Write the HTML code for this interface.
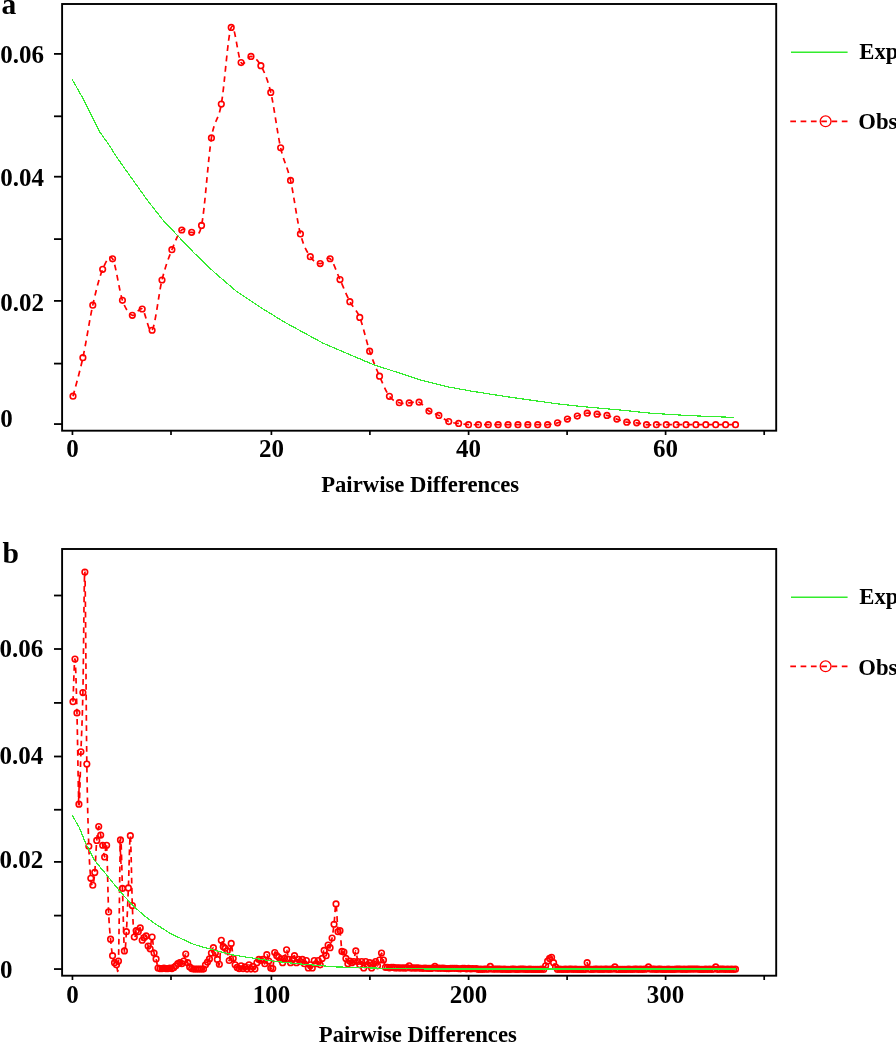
<!DOCTYPE html>
<html><head><meta charset="utf-8"><title>Mismatch distribution</title>
<style>html,body{margin:0;padding:0;background:#fff;overflow:hidden}svg{display:block;will-change:transform}</style></head>
<body><svg width="896" height="1042" viewBox="0 0 896 1042">
<rect width="896" height="1042" fill="#fff"/>
<rect x="62.1" y="4.0" width="714.10" height="426.70" fill="none" stroke="#000" stroke-width="1.9"/>
<line x1="54" y1="424.06" x2="62.1" y2="424.06" stroke="#000" stroke-width="1.8"/>
<line x1="54" y1="363.60" x2="62.1" y2="363.60" stroke="#000" stroke-width="1.8"/>
<line x1="54" y1="300.90" x2="62.1" y2="300.90" stroke="#000" stroke-width="1.8"/>
<line x1="54" y1="239.10" x2="62.1" y2="239.10" stroke="#000" stroke-width="1.8"/>
<line x1="54" y1="176.70" x2="62.1" y2="176.70" stroke="#000" stroke-width="1.8"/>
<line x1="54" y1="116.30" x2="62.1" y2="116.30" stroke="#000" stroke-width="1.8"/>
<line x1="54" y1="53.90" x2="62.1" y2="53.90" stroke="#000" stroke-width="1.8"/>
<text x="0.3" y="63.0" font-size="25" font-family="Liberation Serif" font-weight="bold">0.06</text>
<text x="0.3" y="185.7" font-size="25" font-family="Liberation Serif" font-weight="bold">0.04</text>
<text x="0.3" y="310.7" font-size="25" font-family="Liberation Serif" font-weight="bold">0.02</text>
<text x="0.3" y="426.6" font-size="25" font-family="Liberation Serif" font-weight="bold">0</text>
<line x1="72.45" y1="430.7" x2="72.45" y2="435.00" stroke="#000" stroke-width="1.7"/>
<line x1="171.00" y1="430.7" x2="171.00" y2="435.00" stroke="#000" stroke-width="1.7"/>
<line x1="271.40" y1="430.7" x2="271.40" y2="435.00" stroke="#000" stroke-width="1.7"/>
<line x1="369.90" y1="430.7" x2="369.90" y2="435.00" stroke="#000" stroke-width="1.7"/>
<line x1="468.60" y1="430.7" x2="468.60" y2="435.00" stroke="#000" stroke-width="1.7"/>
<line x1="567.10" y1="430.7" x2="567.10" y2="435.00" stroke="#000" stroke-width="1.7"/>
<line x1="665.60" y1="430.7" x2="665.60" y2="435.00" stroke="#000" stroke-width="1.7"/>
<line x1="764.20" y1="430.7" x2="764.20" y2="435.00" stroke="#000" stroke-width="1.7"/>
<text x="72.45" y="457.30" font-size="25" text-anchor="middle" font-family="Liberation Serif" font-weight="bold">0</text>
<text x="271.40" y="457.30" font-size="25" text-anchor="middle" font-family="Liberation Serif" font-weight="bold">20</text>
<text x="468.60" y="457.30" font-size="25" text-anchor="middle" font-family="Liberation Serif" font-weight="bold">40</text>
<text x="665.60" y="457.30" font-size="25" text-anchor="middle" font-family="Liberation Serif" font-weight="bold">60</text>
<text x="420.2" y="492.0" font-size="22.7" text-anchor="middle" font-family="Liberation Serif" font-weight="bold">Pairwise Differences</text>
<path d="M73.00,396.18 C74.65,389.76 79.59,372.85 82.89,357.68 C86.18,342.52 89.48,319.92 92.78,305.18 C96.07,290.45 99.37,277.01 102.66,269.28 C105.96,261.55 109.26,253.62 112.55,258.79 C115.85,263.96 119.14,290.89 122.44,300.31 C125.74,309.73 129.03,313.85 132.33,315.30 C135.62,316.75 138.92,306.52 142.22,309.01 C145.51,311.50 148.81,335.06 152.10,330.23 C155.40,325.40 158.70,293.43 161.99,280.01 C165.29,266.60 168.58,258.06 171.88,249.72 C175.18,241.39 178.47,232.88 181.77,229.98 C185.06,227.08 188.36,233.09 191.66,232.33 C194.95,231.57 198.25,241.16 201.54,225.42 C204.84,209.68 208.14,158.10 211.43,137.88 C214.73,117.66 218.02,122.49 221.32,104.07 C224.62,85.66 227.91,34.31 231.21,27.39 C234.50,20.47 237.80,57.72 241.10,62.56 C244.39,67.39 247.69,55.87 250.98,56.39 C254.28,56.90 257.58,59.64 260.87,65.64 C264.17,71.65 267.46,78.72 270.76,92.41 C274.06,106.11 277.35,133.15 280.65,147.81 C283.94,162.47 287.24,166.03 290.54,180.38 C293.83,194.74 297.13,221.21 300.42,233.93 C303.72,246.65 307.02,251.75 310.31,256.70 C313.61,261.64 316.90,263.27 320.20,263.60 C323.50,263.94 326.79,256.07 330.09,258.73 C333.38,261.39 336.68,272.43 339.98,279.58 C343.27,286.74 346.57,295.36 349.86,301.67 C353.16,307.97 356.46,309.15 359.75,317.40 C363.05,325.64 366.34,341.34 369.64,351.14 C372.94,360.94 376.23,368.66 379.53,376.19 C382.82,383.71 386.12,391.88 389.42,396.30 C392.71,400.72 396.01,401.62 399.30,402.72 C402.60,403.82 405.90,402.98 409.19,402.90 C412.49,402.82 415.78,400.86 419.08,402.22 C422.38,403.58 425.67,408.84 428.97,411.04 C432.26,413.24 435.56,413.67 438.86,415.42 C442.15,417.18 445.45,420.26 448.74,421.59 C452.04,422.93 455.34,422.93 458.63,423.44 C461.93,423.96 465.22,424.47 468.52,424.68 C471.82,424.88 475.11,424.68 478.41,424.68 C481.70,424.68 485.00,424.68 488.30,424.68 C491.59,424.68 494.89,424.68 498.18,424.68 C501.48,424.68 504.78,424.68 508.07,424.68 C511.37,424.68 514.66,424.68 517.96,424.68 C521.26,424.68 524.55,424.68 527.85,424.68 C531.14,424.68 534.44,424.68 537.74,424.68 C541.03,424.68 544.33,424.99 547.62,424.68 C550.92,424.37 554.22,423.75 557.51,422.83 C560.81,421.90 564.10,420.26 567.40,419.12 C570.70,417.99 573.99,417.03 577.29,416.04 C580.58,415.05 583.88,413.51 587.18,413.20 C590.47,412.89 593.77,413.82 597.06,414.19 C600.36,414.56 603.66,414.60 606.95,415.42 C610.25,416.25 613.54,417.99 616.84,419.12 C620.14,420.26 623.43,421.59 626.73,422.21 C630.02,422.83 633.32,422.41 636.62,422.83 C639.91,423.24 643.21,424.37 646.50,424.68 C649.80,424.99 653.10,424.68 656.39,424.68 C659.69,424.68 662.98,424.68 666.28,424.68 C669.58,424.68 672.87,424.68 676.17,424.68 C679.46,424.68 682.76,424.68 686.06,424.68 C689.35,424.68 692.65,424.68 695.94,424.68 C699.24,424.68 702.54,424.68 705.83,424.68 C709.13,424.68 712.42,424.68 715.72,424.68 C719.02,424.68 722.31,424.68 725.61,424.68 C728.90,424.68 733.85,424.68 735.50,424.68" fill="none" stroke="#ff0000" stroke-width="1.7" stroke-dasharray="5.7 4.6"/>
<circle cx="73.00" cy="396.18" r="2.8" fill="none" stroke="#ff0000" stroke-width="1.6"/>
<circle cx="82.89" cy="357.68" r="2.8" fill="none" stroke="#ff0000" stroke-width="1.6"/>
<circle cx="92.78" cy="305.18" r="2.8" fill="none" stroke="#ff0000" stroke-width="1.6"/>
<circle cx="102.66" cy="269.28" r="2.8" fill="none" stroke="#ff0000" stroke-width="1.6"/>
<circle cx="112.55" cy="258.79" r="2.8" fill="none" stroke="#ff0000" stroke-width="1.6"/>
<circle cx="122.44" cy="300.31" r="2.8" fill="none" stroke="#ff0000" stroke-width="1.6"/>
<circle cx="132.33" cy="315.30" r="2.8" fill="none" stroke="#ff0000" stroke-width="1.6"/>
<circle cx="142.22" cy="309.01" r="2.8" fill="none" stroke="#ff0000" stroke-width="1.6"/>
<circle cx="152.10" cy="330.23" r="2.8" fill="none" stroke="#ff0000" stroke-width="1.6"/>
<circle cx="161.99" cy="280.01" r="2.8" fill="none" stroke="#ff0000" stroke-width="1.6"/>
<circle cx="171.88" cy="249.72" r="2.8" fill="none" stroke="#ff0000" stroke-width="1.6"/>
<circle cx="181.77" cy="229.98" r="2.8" fill="none" stroke="#ff0000" stroke-width="1.6"/>
<circle cx="191.66" cy="232.33" r="2.8" fill="none" stroke="#ff0000" stroke-width="1.6"/>
<circle cx="201.54" cy="225.42" r="2.8" fill="none" stroke="#ff0000" stroke-width="1.6"/>
<circle cx="211.43" cy="137.88" r="2.8" fill="none" stroke="#ff0000" stroke-width="1.6"/>
<circle cx="221.32" cy="104.07" r="2.8" fill="none" stroke="#ff0000" stroke-width="1.6"/>
<circle cx="231.21" cy="27.39" r="2.8" fill="none" stroke="#ff0000" stroke-width="1.6"/>
<circle cx="241.10" cy="62.56" r="2.8" fill="none" stroke="#ff0000" stroke-width="1.6"/>
<circle cx="250.98" cy="56.39" r="2.8" fill="none" stroke="#ff0000" stroke-width="1.6"/>
<circle cx="260.87" cy="65.64" r="2.8" fill="none" stroke="#ff0000" stroke-width="1.6"/>
<circle cx="270.76" cy="92.41" r="2.8" fill="none" stroke="#ff0000" stroke-width="1.6"/>
<circle cx="280.65" cy="147.81" r="2.8" fill="none" stroke="#ff0000" stroke-width="1.6"/>
<circle cx="290.54" cy="180.38" r="2.8" fill="none" stroke="#ff0000" stroke-width="1.6"/>
<circle cx="300.42" cy="233.93" r="2.8" fill="none" stroke="#ff0000" stroke-width="1.6"/>
<circle cx="310.31" cy="256.70" r="2.8" fill="none" stroke="#ff0000" stroke-width="1.6"/>
<circle cx="320.20" cy="263.60" r="2.8" fill="none" stroke="#ff0000" stroke-width="1.6"/>
<circle cx="330.09" cy="258.73" r="2.8" fill="none" stroke="#ff0000" stroke-width="1.6"/>
<circle cx="339.98" cy="279.58" r="2.8" fill="none" stroke="#ff0000" stroke-width="1.6"/>
<circle cx="349.86" cy="301.67" r="2.8" fill="none" stroke="#ff0000" stroke-width="1.6"/>
<circle cx="359.75" cy="317.40" r="2.8" fill="none" stroke="#ff0000" stroke-width="1.6"/>
<circle cx="369.64" cy="351.14" r="2.8" fill="none" stroke="#ff0000" stroke-width="1.6"/>
<circle cx="379.53" cy="376.19" r="2.8" fill="none" stroke="#ff0000" stroke-width="1.6"/>
<circle cx="389.42" cy="396.30" r="2.8" fill="none" stroke="#ff0000" stroke-width="1.6"/>
<circle cx="399.30" cy="402.72" r="2.8" fill="none" stroke="#ff0000" stroke-width="1.6"/>
<circle cx="409.19" cy="402.90" r="2.8" fill="none" stroke="#ff0000" stroke-width="1.6"/>
<circle cx="419.08" cy="402.22" r="2.8" fill="none" stroke="#ff0000" stroke-width="1.6"/>
<circle cx="428.97" cy="411.04" r="2.8" fill="none" stroke="#ff0000" stroke-width="1.6"/>
<circle cx="438.86" cy="415.42" r="2.8" fill="none" stroke="#ff0000" stroke-width="1.6"/>
<circle cx="448.74" cy="421.59" r="2.8" fill="none" stroke="#ff0000" stroke-width="1.6"/>
<circle cx="458.63" cy="423.44" r="2.8" fill="none" stroke="#ff0000" stroke-width="1.6"/>
<circle cx="468.52" cy="424.68" r="2.8" fill="none" stroke="#ff0000" stroke-width="1.6"/>
<circle cx="478.41" cy="424.68" r="2.8" fill="none" stroke="#ff0000" stroke-width="1.6"/>
<circle cx="488.30" cy="424.68" r="2.8" fill="none" stroke="#ff0000" stroke-width="1.6"/>
<circle cx="498.18" cy="424.68" r="2.8" fill="none" stroke="#ff0000" stroke-width="1.6"/>
<circle cx="508.07" cy="424.68" r="2.8" fill="none" stroke="#ff0000" stroke-width="1.6"/>
<circle cx="517.96" cy="424.68" r="2.8" fill="none" stroke="#ff0000" stroke-width="1.6"/>
<circle cx="527.85" cy="424.68" r="2.8" fill="none" stroke="#ff0000" stroke-width="1.6"/>
<circle cx="537.74" cy="424.68" r="2.8" fill="none" stroke="#ff0000" stroke-width="1.6"/>
<circle cx="547.62" cy="424.68" r="2.8" fill="none" stroke="#ff0000" stroke-width="1.6"/>
<circle cx="557.51" cy="422.83" r="2.8" fill="none" stroke="#ff0000" stroke-width="1.6"/>
<circle cx="567.40" cy="419.12" r="2.8" fill="none" stroke="#ff0000" stroke-width="1.6"/>
<circle cx="577.29" cy="416.04" r="2.8" fill="none" stroke="#ff0000" stroke-width="1.6"/>
<circle cx="587.18" cy="413.20" r="2.8" fill="none" stroke="#ff0000" stroke-width="1.6"/>
<circle cx="597.06" cy="414.19" r="2.8" fill="none" stroke="#ff0000" stroke-width="1.6"/>
<circle cx="606.95" cy="415.42" r="2.8" fill="none" stroke="#ff0000" stroke-width="1.6"/>
<circle cx="616.84" cy="419.12" r="2.8" fill="none" stroke="#ff0000" stroke-width="1.6"/>
<circle cx="626.73" cy="422.21" r="2.8" fill="none" stroke="#ff0000" stroke-width="1.6"/>
<circle cx="636.62" cy="422.83" r="2.8" fill="none" stroke="#ff0000" stroke-width="1.6"/>
<circle cx="646.50" cy="424.68" r="2.8" fill="none" stroke="#ff0000" stroke-width="1.6"/>
<circle cx="656.39" cy="424.68" r="2.8" fill="none" stroke="#ff0000" stroke-width="1.6"/>
<circle cx="666.28" cy="424.68" r="2.8" fill="none" stroke="#ff0000" stroke-width="1.6"/>
<circle cx="676.17" cy="424.68" r="2.8" fill="none" stroke="#ff0000" stroke-width="1.6"/>
<circle cx="686.06" cy="424.68" r="2.8" fill="none" stroke="#ff0000" stroke-width="1.6"/>
<circle cx="695.94" cy="424.68" r="2.8" fill="none" stroke="#ff0000" stroke-width="1.6"/>
<circle cx="705.83" cy="424.68" r="2.8" fill="none" stroke="#ff0000" stroke-width="1.6"/>
<circle cx="715.72" cy="424.68" r="2.8" fill="none" stroke="#ff0000" stroke-width="1.6"/>
<circle cx="725.61" cy="424.68" r="2.8" fill="none" stroke="#ff0000" stroke-width="1.6"/>
<circle cx="735.50" cy="424.68" r="2.8" fill="none" stroke="#ff0000" stroke-width="1.6"/>
<path d="M72.10,79.30 L84.40,100.90 L93.00,118.70 L99.80,132.00 L108.40,144.10 L117.00,157.50 L128.50,173.80 L146.60,199.20 L163.20,220.40 L193.60,252.50 L215.00,273.00 L236.40,291.20 L261.40,307.90 L282.90,321.25 L323.70,343.50 L372.60,364.30 L421.40,380.30 L446.00,386.50 L470.50,391.00 L507.30,396.80 L556.40,403.70 L582.70,406.60 L602.40,408.40 L622.50,410.20 L650.50,413.20 L682.40,415.20 L711.90,416.60 L734.00,417.40" fill="none" stroke="#33ec2d" stroke-width="1.2" shape-rendering="crispEdges"/>
<line x1="791" y1="52.3" x2="847.6" y2="52.3" stroke="#33ec2d" stroke-width="1.4"/>
<text x="859.3" y="59.10" font-size="22.7" font-family="Liberation Serif" font-weight="bold">Exp</text>
<line x1="790.3" y1="121.3" x2="847.8" y2="121.3" stroke="#ff0000" stroke-width="1.7" stroke-dasharray="5.7 4.6"/>
<circle cx="825.6" cy="121.3" r="5.4" fill="none" stroke="#ff0000" stroke-width="1.3"/>
<text x="858.3" y="129.00" font-size="22.7" font-family="Liberation Serif" font-weight="bold">Obs</text>
<text x="1.4" y="14.0" font-size="29.5" font-family="Liberation Serif" font-weight="bold">a</text>
<rect x="62.1" y="549.0" width="714.10" height="426.70" fill="none" stroke="#000" stroke-width="1.9"/>
<line x1="54" y1="969.06" x2="62.1" y2="969.06" stroke="#000" stroke-width="1.8"/>
<line x1="54" y1="915.60" x2="62.1" y2="915.60" stroke="#000" stroke-width="1.8"/>
<line x1="54" y1="861.90" x2="62.1" y2="861.90" stroke="#000" stroke-width="1.8"/>
<line x1="54" y1="809.75" x2="62.1" y2="809.75" stroke="#000" stroke-width="1.8"/>
<line x1="54" y1="756.50" x2="62.1" y2="756.50" stroke="#000" stroke-width="1.8"/>
<line x1="54" y1="702.90" x2="62.1" y2="702.90" stroke="#000" stroke-width="1.8"/>
<line x1="54" y1="649.00" x2="62.1" y2="649.00" stroke="#000" stroke-width="1.8"/>
<line x1="54" y1="595.50" x2="62.1" y2="595.50" stroke="#000" stroke-width="1.8"/>
<text x="-0.6" y="657.4" font-size="25" font-family="Liberation Serif" font-weight="bold">0.06</text>
<text x="-0.6" y="764.3" font-size="25" font-family="Liberation Serif" font-weight="bold">0.04</text>
<text x="-0.6" y="868.2" font-size="25" font-family="Liberation Serif" font-weight="bold">0.02</text>
<text x="0.0" y="978.3" font-size="25" font-family="Liberation Serif" font-weight="bold">0</text>
<line x1="72.45" y1="975.7" x2="72.45" y2="980.00" stroke="#000" stroke-width="1.7"/>
<line x1="171.00" y1="975.7" x2="171.00" y2="980.00" stroke="#000" stroke-width="1.7"/>
<line x1="271.40" y1="975.7" x2="271.40" y2="980.00" stroke="#000" stroke-width="1.7"/>
<line x1="369.90" y1="975.7" x2="369.90" y2="980.00" stroke="#000" stroke-width="1.7"/>
<line x1="468.60" y1="975.7" x2="468.60" y2="980.00" stroke="#000" stroke-width="1.7"/>
<line x1="567.10" y1="975.7" x2="567.10" y2="980.00" stroke="#000" stroke-width="1.7"/>
<line x1="665.60" y1="975.7" x2="665.60" y2="980.00" stroke="#000" stroke-width="1.7"/>
<line x1="764.20" y1="975.7" x2="764.20" y2="980.00" stroke="#000" stroke-width="1.7"/>
<text x="72.45" y="1003.00" font-size="25" text-anchor="middle" font-family="Liberation Serif" font-weight="bold">0</text>
<text x="271.40" y="1003.00" font-size="25" text-anchor="middle" font-family="Liberation Serif" font-weight="bold">100</text>
<text x="468.60" y="1003.00" font-size="25" text-anchor="middle" font-family="Liberation Serif" font-weight="bold">200</text>
<text x="665.60" y="1003.00" font-size="25" text-anchor="middle" font-family="Liberation Serif" font-weight="bold">300</text>
<text x="417.8" y="1042.0" font-size="22.7" text-anchor="middle" font-family="Liberation Serif" font-weight="bold">Pairwise Differences</text>
<path d="M73.00,701.68 C73.33,694.56 74.32,657.11 74.98,658.98 C75.64,660.85 76.30,688.69 76.96,712.88 C77.61,737.08 78.27,797.65 78.93,804.15 C79.59,810.64 80.25,770.43 80.91,751.84 C81.57,733.25 82.23,722.58 82.89,692.60 C83.55,662.63 84.21,560.07 84.87,571.99 C85.52,583.91 86.18,718.40 86.84,764.12 C87.50,809.84 88.16,827.27 88.82,846.31 C89.48,865.34 90.14,871.84 90.80,878.33 C91.46,884.82 92.12,886.25 92.78,885.27 C93.44,884.29 94.09,879.93 94.75,872.46 C95.41,864.99 96.07,848.09 96.73,840.44 C97.39,832.79 98.05,827.45 98.71,826.56 C99.37,825.67 100.03,831.99 100.69,835.10 C101.35,838.21 102.00,841.59 102.66,845.24 C103.32,848.89 103.98,856.98 104.64,856.98 C105.30,856.98 105.96,836.08 106.62,845.24 C107.28,854.40 107.94,896.30 108.60,911.95 C109.26,927.61 109.92,931.88 110.57,939.17 C111.23,946.47 111.89,951.80 112.55,955.72 C113.21,959.63 113.87,961.14 114.53,962.66 C115.19,964.17 115.85,965.06 116.51,964.79 C117.17,964.52 117.83,981.87 118.48,961.05 C119.14,940.24 119.80,852.00 120.46,839.90 C121.12,827.81 121.78,869.97 122.44,888.47 C123.10,906.97 123.76,943.71 124.42,950.91 C125.08,958.12 125.74,942.20 126.40,931.70 C127.05,921.20 127.71,903.95 128.37,887.94 C129.03,871.93 129.69,832.70 130.35,835.63 C131.01,838.57 131.67,888.65 132.33,905.55 C132.99,922.45 133.65,932.86 134.31,937.04 C134.96,941.22 135.62,931.52 136.28,930.63 C136.94,929.74 137.60,932.15 138.26,931.70 C138.92,931.26 139.58,926.54 140.24,927.97 C140.90,929.39 141.56,938.64 142.22,940.24 C142.88,941.84 143.53,938.28 144.19,937.57 C144.85,936.86 145.51,934.55 146.17,935.97 C146.83,937.39 147.49,943.98 148.15,946.11 C148.81,948.25 149.47,950.29 150.13,948.78 C150.79,947.27 151.44,936.33 152.10,937.04 C152.76,937.75 153.42,949.40 154.08,953.05 C154.74,956.70 155.40,956.43 156.06,958.92 C156.72,961.41 157.38,966.39 158.04,967.99 C158.70,969.59 159.36,968.44 160.01,968.53 C160.67,968.62 161.33,968.62 161.99,968.53 C162.65,968.44 163.31,967.99 163.97,967.99 C164.63,967.99 165.29,968.44 165.95,968.53 C166.61,968.62 167.27,968.62 167.92,968.53 C168.58,968.44 169.24,967.99 169.90,967.99 C170.56,967.99 171.22,968.62 171.88,968.53 C172.54,968.44 173.20,967.90 173.86,967.46 C174.52,967.01 175.18,966.48 175.84,965.86 C176.49,965.24 177.15,964.26 177.81,963.72 C178.47,963.19 179.13,962.66 179.79,962.66 C180.45,962.66 181.11,963.99 181.77,963.72 C182.43,963.46 183.09,962.66 183.75,961.05 C184.40,959.45 185.06,953.85 185.72,954.12 C186.38,954.38 187.04,960.52 187.70,962.66 C188.36,964.79 189.02,965.95 189.68,966.93 C190.34,967.90 191.00,968.17 191.66,968.53 C192.32,968.88 192.97,968.97 193.63,969.06 C194.29,969.15 194.95,969.06 195.61,969.06 C196.27,969.06 196.93,969.06 197.59,969.06 C198.25,969.06 198.91,969.06 199.57,969.06 C200.23,969.06 200.88,969.06 201.54,969.06 C202.20,969.06 202.86,969.77 203.52,969.06 C204.18,968.35 204.84,965.95 205.50,964.79 C206.16,963.63 206.82,963.10 207.48,962.12 C208.14,961.14 208.80,960.43 209.45,958.92 C210.11,957.41 210.77,954.92 211.43,953.05 C212.09,951.18 212.75,947.71 213.41,947.71 C214.07,947.71 214.73,951.09 215.39,953.05 C216.05,955.01 216.71,957.59 217.36,959.45 C218.02,961.32 218.68,967.46 219.34,964.26 C220.00,961.05 220.66,943.18 221.32,940.24 C221.98,937.30 222.64,945.31 223.30,946.64 C223.96,947.98 224.62,947.53 225.28,948.25 C225.93,948.96 226.59,948.87 227.25,950.91 C227.91,952.96 228.57,961.77 229.23,960.52 C229.89,959.28 230.55,943.80 231.21,943.44 C231.87,943.09 232.53,954.83 233.19,958.39 C233.84,961.94 234.50,963.28 235.16,964.79 C235.82,966.30 236.48,966.84 237.14,967.46 C237.80,968.08 238.46,968.79 239.12,968.53 C239.78,968.26 240.44,965.86 241.10,965.86 C241.76,965.86 242.41,968.35 243.07,968.53 C243.73,968.70 244.39,966.84 245.05,966.93 C245.71,967.01 246.37,969.42 247.03,969.06 C247.69,968.70 248.35,964.79 249.01,964.79 C249.67,964.79 250.32,968.79 250.98,969.06 C251.64,969.33 252.30,966.39 252.96,966.39 C253.62,966.39 254.28,969.68 254.94,969.06 C255.60,968.44 256.26,964.26 256.92,962.66 C257.58,961.05 258.24,959.81 258.89,959.45 C259.55,959.10 260.21,960.52 260.87,960.52 C261.53,960.52 262.19,958.92 262.85,959.45 C263.51,959.99 264.17,964.52 264.83,963.72 C265.49,962.92 266.15,955.09 266.80,954.65 C267.46,954.21 268.12,958.83 268.78,961.05 C269.44,963.28 270.10,966.75 270.76,967.99 C271.42,969.24 272.08,971.11 272.74,968.53 C273.40,965.95 274.06,954.65 274.72,952.52 C275.37,950.38 276.03,954.92 276.69,955.72 C277.35,956.52 278.01,956.70 278.67,957.32 C279.33,957.94 279.99,958.56 280.65,959.45 C281.31,960.34 281.97,962.83 282.63,962.66 C283.28,962.48 283.94,960.52 284.60,958.39 C285.26,956.25 285.92,949.67 286.58,949.85 C287.24,950.02 287.90,957.32 288.56,959.45 C289.22,961.59 289.88,962.66 290.54,962.66 C291.20,962.66 291.85,960.61 292.51,959.45 C293.17,958.30 293.83,955.18 294.49,955.72 C295.15,956.25 295.81,962.03 296.47,962.66 C297.13,963.28 297.79,959.63 298.45,959.45 C299.11,959.28 299.76,961.59 300.42,961.59 C301.08,961.59 301.74,959.10 302.40,959.45 C303.06,959.81 303.72,963.55 304.38,963.72 C305.04,963.90 305.70,959.81 306.36,960.52 C307.02,961.23 307.68,967.28 308.33,967.99 C308.99,968.70 309.65,964.79 310.31,964.79 C310.97,964.79 311.63,968.70 312.29,967.99 C312.95,967.28 313.61,961.23 314.27,960.52 C314.93,959.81 315.59,963.72 316.24,963.72 C316.90,963.72 317.56,960.34 318.22,960.52 C318.88,960.70 319.54,965.15 320.20,964.79 C320.86,964.43 321.52,960.79 322.18,958.39 C322.84,955.98 323.50,950.83 324.16,950.38 C324.81,949.94 325.47,956.61 326.13,955.72 C326.79,954.83 327.45,946.38 328.11,945.04 C328.77,943.71 329.43,948.87 330.09,947.71 C330.75,946.56 331.41,942.02 332.07,938.11 C332.72,934.19 333.38,929.92 334.04,924.23 C334.70,918.54 335.36,902.70 336.02,903.95 C336.68,905.19 337.34,927.25 338.00,931.70 C338.66,936.15 339.32,927.34 339.98,930.63 C340.64,933.92 341.29,947.89 341.95,951.45 C342.61,955.01 343.27,950.83 343.93,951.98 C344.59,953.14 345.25,956.43 345.91,958.39 C346.57,960.34 347.23,963.28 347.89,963.72 C348.55,964.17 349.20,961.23 349.86,961.05 C350.52,960.88 351.18,962.57 351.84,962.66 C352.50,962.74 353.16,963.55 353.82,961.59 C354.48,959.63 355.14,950.91 355.80,950.91 C356.46,950.91 357.12,959.28 357.77,961.59 C358.43,963.90 359.09,964.79 359.75,964.79 C360.41,964.79 361.07,961.05 361.73,961.59 C362.39,962.12 363.05,967.99 363.71,967.99 C364.37,967.99 365.03,962.12 365.68,961.59 C366.34,961.05 367.00,964.61 367.66,964.79 C368.32,964.97 368.98,962.12 369.64,962.66 C370.30,963.19 370.96,967.81 371.62,967.99 C372.28,968.17 372.94,964.79 373.60,963.72 C374.25,962.66 374.91,961.23 375.57,961.59 C376.23,961.94 376.89,966.12 377.55,965.86 C378.21,965.59 378.87,962.12 379.53,959.99 C380.19,957.85 380.85,953.05 381.51,953.05 C382.16,953.05 382.82,957.60 383.48,959.99 C384.14,962.37 384.80,966.12 385.46,967.35 C386.12,968.58 386.78,967.30 387.44,967.38 C388.10,967.46 388.76,967.82 389.42,967.83 C390.08,967.84 390.73,967.49 391.39,967.43 C392.05,967.37 392.71,967.38 393.37,967.46 C394.03,967.54 394.69,967.87 395.35,967.91 C396.01,967.96 396.67,967.72 397.33,967.73 C397.99,967.73 398.64,967.92 399.30,967.97 C399.96,968.01 400.62,968.02 401.28,967.99 C401.94,967.97 402.60,967.80 403.26,967.81 C403.92,967.81 404.58,968.07 405.24,968.05 C405.90,968.02 406.56,968.01 407.21,967.65 C407.87,967.28 408.53,965.78 409.19,965.86 C409.85,965.94 410.51,967.81 411.17,968.13 C411.83,968.44 412.49,967.72 413.15,967.73 C413.81,967.73 414.47,968.17 415.12,968.18 C415.78,968.19 416.44,967.81 417.10,967.78 C417.76,967.75 418.42,967.94 419.08,968.02 C419.74,968.10 420.40,968.21 421.06,968.26 C421.72,968.30 422.38,968.31 423.04,968.29 C423.69,968.26 424.35,968.09 425.01,968.10 C425.67,968.11 426.33,968.30 426.99,968.34 C427.65,968.38 428.31,968.36 428.97,968.37 C429.63,968.38 430.29,968.46 430.95,968.39 C431.60,968.33 432.26,968.33 432.92,967.99 C433.58,967.66 434.24,966.35 434.90,966.39 C435.56,966.44 436.22,967.98 436.88,968.26 C437.54,968.54 438.20,968.06 438.86,968.07 C439.52,968.08 440.17,968.30 440.83,968.31 C441.49,968.32 442.15,968.12 442.81,968.13 C443.47,968.13 444.13,968.29 444.79,968.37 C445.45,968.45 446.11,968.56 446.77,968.61 C447.43,968.65 448.08,968.70 448.74,968.63 C449.40,968.57 450.06,968.30 450.72,968.23 C451.38,968.17 452.04,968.25 452.70,968.26 C453.36,968.27 454.02,968.28 454.68,968.29 C455.34,968.30 456.00,968.23 456.65,968.31 C457.31,968.39 457.97,968.69 458.63,968.77 C459.29,968.85 459.95,968.86 460.61,968.79 C461.27,968.73 461.93,968.46 462.59,968.39 C463.25,968.33 463.91,968.34 464.56,968.42 C465.22,968.50 465.88,968.86 466.54,968.87 C467.20,968.88 467.86,968.46 468.52,968.47 C469.18,968.48 469.84,968.92 470.50,968.93 C471.16,968.94 471.82,968.55 472.48,968.53 C473.13,968.50 473.79,968.76 474.45,968.77 C475.11,968.78 475.77,968.48 476.43,968.58 C477.09,968.68 477.75,969.27 478.41,969.38 C479.07,969.49 479.73,969.22 480.39,969.22 C481.04,969.22 481.70,969.41 482.36,969.38 C483.02,969.35 483.68,969.09 484.34,969.06 C485.00,969.03 485.66,969.19 486.32,969.22 C486.98,969.25 487.64,969.69 488.30,969.22 C488.96,968.75 489.61,966.39 490.27,966.39 C490.93,966.39 491.59,968.78 492.25,969.22 C492.91,969.66 493.57,969.06 494.23,969.06 C494.89,969.06 495.55,969.22 496.21,969.22 C496.87,969.22 497.52,969.09 498.18,969.06 C498.84,969.03 499.50,969.01 500.16,969.06 C500.82,969.11 501.48,969.38 502.14,969.38 C502.80,969.38 503.46,969.06 504.12,969.06 C504.78,969.06 505.44,969.33 506.09,969.38 C506.75,969.43 507.41,969.38 508.07,969.38 C508.73,969.38 509.39,969.43 510.05,969.38 C510.71,969.33 511.37,969.11 512.03,969.06 C512.69,969.01 513.35,969.01 514.00,969.06 C514.66,969.11 515.32,969.33 515.98,969.38 C516.64,969.43 517.30,969.43 517.96,969.38 C518.62,969.33 519.28,969.09 519.94,969.06 C520.60,969.03 521.26,969.19 521.92,969.22 C522.57,969.25 523.23,969.19 523.89,969.22 C524.55,969.25 525.21,969.35 525.87,969.38 C526.53,969.41 527.19,969.41 527.85,969.38 C528.51,969.35 529.17,969.22 529.83,969.22 C530.48,969.22 531.14,969.35 531.80,969.38 C532.46,969.41 533.12,969.38 533.78,969.38 C534.44,969.38 535.10,969.38 535.76,969.38 C536.42,969.38 537.08,969.38 537.74,969.38 C538.40,969.38 539.05,969.43 539.71,969.38 C540.37,969.33 541.03,969.06 541.69,969.06 C542.35,969.06 543.01,969.91 543.67,969.38 C544.33,968.85 544.99,967.25 545.65,965.86 C546.31,964.47 546.96,962.30 547.62,961.05 C548.28,959.81 548.94,959.01 549.60,958.39 C550.26,957.76 550.92,956.61 551.58,957.32 C552.24,958.03 552.90,961.05 553.56,962.66 C554.22,964.26 554.88,965.80 555.53,966.93 C556.19,968.05 556.85,969.02 557.51,969.38 C558.17,969.74 558.83,969.06 559.49,969.06 C560.15,969.06 560.81,969.33 561.47,969.38 C562.13,969.43 562.79,969.41 563.44,969.38 C564.10,969.35 564.76,969.22 565.42,969.22 C566.08,969.22 566.74,969.38 567.40,969.38 C568.06,969.38 568.72,969.27 569.38,969.22 C570.04,969.17 570.70,969.03 571.36,969.06 C572.01,969.09 572.67,969.35 573.33,969.38 C573.99,969.41 574.65,969.22 575.31,969.22 C575.97,969.22 576.63,969.35 577.29,969.38 C577.95,969.41 578.61,969.38 579.27,969.38 C579.92,969.38 580.58,969.38 581.24,969.38 C581.90,969.38 582.56,969.38 583.22,969.38 C583.88,969.38 584.54,970.50 585.20,969.38 C585.86,968.26 586.52,962.68 587.18,962.66 C587.84,962.63 588.49,968.10 589.15,969.22 C589.81,970.34 590.47,969.35 591.13,969.38 C591.79,969.41 592.45,969.43 593.11,969.38 C593.77,969.33 594.43,969.11 595.09,969.06 C595.75,969.01 596.40,969.01 597.06,969.06 C597.72,969.11 598.38,969.35 599.04,969.38 C599.70,969.41 600.36,969.22 601.02,969.22 C601.68,969.22 602.34,969.38 603.00,969.38 C603.66,969.38 604.32,969.27 604.97,969.22 C605.63,969.17 606.29,969.03 606.95,969.06 C607.61,969.09 608.27,969.38 608.93,969.38 C609.59,969.38 610.25,969.09 610.91,969.06 C611.57,969.03 612.23,969.58 612.88,969.22 C613.54,968.86 614.20,966.90 614.86,966.93 C615.52,966.95 616.18,968.97 616.84,969.38 C617.50,969.79 618.16,969.38 618.82,969.38 C619.48,969.38 620.14,969.38 620.80,969.38 C621.45,969.38 622.11,969.38 622.77,969.38 C623.43,969.38 624.09,969.38 624.75,969.38 C625.41,969.38 626.07,969.43 626.73,969.38 C627.39,969.33 628.05,969.06 628.71,969.06 C629.36,969.06 630.02,969.33 630.68,969.38 C631.34,969.43 632.00,969.43 632.66,969.38 C633.32,969.33 633.98,969.09 634.64,969.06 C635.30,969.03 635.96,969.17 636.62,969.22 C637.28,969.27 637.93,969.38 638.59,969.38 C639.25,969.38 639.91,969.22 640.57,969.22 C641.23,969.22 641.89,969.38 642.55,969.38 C643.21,969.38 643.87,969.27 644.53,969.22 C645.19,969.17 645.84,969.44 646.50,969.06 C647.16,968.68 647.82,966.90 648.48,966.93 C649.14,966.95 649.80,968.84 650.46,969.22 C651.12,969.60 651.78,969.22 652.44,969.22 C653.10,969.22 653.76,969.19 654.41,969.22 C655.07,969.25 655.73,969.38 656.39,969.38 C657.05,969.38 657.71,969.27 658.37,969.22 C659.03,969.17 659.69,969.03 660.35,969.06 C661.01,969.09 661.67,969.33 662.32,969.38 C662.98,969.43 663.64,969.38 664.30,969.38 C664.96,969.38 665.62,969.43 666.28,969.38 C666.94,969.33 667.60,969.06 668.26,969.06 C668.92,969.06 669.58,969.33 670.24,969.38 C670.89,969.43 671.55,969.38 672.21,969.38 C672.87,969.38 673.53,969.41 674.19,969.38 C674.85,969.35 675.51,969.27 676.17,969.22 C676.83,969.17 677.49,969.09 678.15,969.06 C678.80,969.03 679.46,969.01 680.12,969.06 C680.78,969.11 681.44,969.38 682.10,969.38 C682.76,969.38 683.42,969.06 684.08,969.06 C684.74,969.06 685.40,969.35 686.06,969.38 C686.72,969.41 687.37,969.27 688.03,969.22 C688.69,969.17 689.35,969.06 690.01,969.06 C690.67,969.06 691.33,969.22 691.99,969.22 C692.65,969.22 693.31,969.09 693.97,969.06 C694.63,969.03 695.28,969.06 695.94,969.06 C696.60,969.06 697.26,969.01 697.92,969.06 C698.58,969.11 699.24,969.33 699.90,969.38 C700.56,969.43 701.22,969.38 701.88,969.38 C702.54,969.38 703.20,969.41 703.85,969.38 C704.51,969.35 705.17,969.22 705.83,969.22 C706.49,969.22 707.15,969.41 707.81,969.38 C708.47,969.35 709.13,969.06 709.79,969.06 C710.45,969.06 711.11,969.38 711.76,969.38 C712.42,969.38 713.08,969.47 713.74,969.06 C714.40,968.65 715.06,966.87 715.72,966.93 C716.38,966.98 717.04,969.00 717.70,969.38 C718.36,969.76 719.02,969.25 719.68,969.22 C720.33,969.19 720.99,969.22 721.65,969.22 C722.31,969.22 722.97,969.19 723.63,969.22 C724.29,969.25 724.95,969.41 725.61,969.38 C726.27,969.35 726.93,969.06 727.59,969.06 C728.24,969.06 728.90,969.38 729.56,969.38 C730.22,969.38 730.88,969.06 731.54,969.06 C732.20,969.06 732.86,969.35 733.52,969.38 C734.18,969.41 735.17,969.25 735.50,969.22" fill="none" stroke="#ff0000" stroke-width="1.7" stroke-dasharray="5.7 4.6"/>
<path d="M78.4,804.7 L79.6,775 M119.9,839.8 L121.0,864" fill="none" stroke="#ff0000" stroke-width="1.6"/>
<circle cx="73.00" cy="701.68" r="2.8" fill="none" stroke="#ff0000" stroke-width="1.6"/>
<circle cx="74.98" cy="658.98" r="2.8" fill="none" stroke="#ff0000" stroke-width="1.6"/>
<circle cx="76.96" cy="712.88" r="2.8" fill="none" stroke="#ff0000" stroke-width="1.6"/>
<circle cx="78.93" cy="804.15" r="2.8" fill="none" stroke="#ff0000" stroke-width="1.6"/>
<circle cx="80.91" cy="751.84" r="2.8" fill="none" stroke="#ff0000" stroke-width="1.6"/>
<circle cx="82.89" cy="692.60" r="2.8" fill="none" stroke="#ff0000" stroke-width="1.6"/>
<circle cx="84.87" cy="571.99" r="2.8" fill="none" stroke="#ff0000" stroke-width="1.6"/>
<circle cx="86.84" cy="764.12" r="2.8" fill="none" stroke="#ff0000" stroke-width="1.6"/>
<circle cx="88.82" cy="846.31" r="2.8" fill="none" stroke="#ff0000" stroke-width="1.6"/>
<circle cx="90.80" cy="878.33" r="2.8" fill="none" stroke="#ff0000" stroke-width="1.6"/>
<circle cx="92.78" cy="885.27" r="2.8" fill="none" stroke="#ff0000" stroke-width="1.6"/>
<circle cx="94.75" cy="872.46" r="2.8" fill="none" stroke="#ff0000" stroke-width="1.6"/>
<circle cx="96.73" cy="840.44" r="2.8" fill="none" stroke="#ff0000" stroke-width="1.6"/>
<circle cx="98.71" cy="826.56" r="2.8" fill="none" stroke="#ff0000" stroke-width="1.6"/>
<circle cx="100.69" cy="835.10" r="2.8" fill="none" stroke="#ff0000" stroke-width="1.6"/>
<circle cx="102.66" cy="845.24" r="2.8" fill="none" stroke="#ff0000" stroke-width="1.6"/>
<circle cx="104.64" cy="856.98" r="2.8" fill="none" stroke="#ff0000" stroke-width="1.6"/>
<circle cx="106.62" cy="845.24" r="2.8" fill="none" stroke="#ff0000" stroke-width="1.6"/>
<circle cx="108.60" cy="911.95" r="2.8" fill="none" stroke="#ff0000" stroke-width="1.6"/>
<circle cx="110.57" cy="939.17" r="2.8" fill="none" stroke="#ff0000" stroke-width="1.6"/>
<circle cx="112.55" cy="955.72" r="2.8" fill="none" stroke="#ff0000" stroke-width="1.6"/>
<circle cx="114.53" cy="962.66" r="2.8" fill="none" stroke="#ff0000" stroke-width="1.6"/>
<circle cx="116.51" cy="964.79" r="2.8" fill="none" stroke="#ff0000" stroke-width="1.6"/>
<circle cx="118.48" cy="961.05" r="2.8" fill="none" stroke="#ff0000" stroke-width="1.6"/>
<circle cx="120.46" cy="839.90" r="2.8" fill="none" stroke="#ff0000" stroke-width="1.6"/>
<circle cx="122.44" cy="888.47" r="2.8" fill="none" stroke="#ff0000" stroke-width="1.6"/>
<circle cx="124.42" cy="950.91" r="2.8" fill="none" stroke="#ff0000" stroke-width="1.6"/>
<circle cx="126.40" cy="931.70" r="2.8" fill="none" stroke="#ff0000" stroke-width="1.6"/>
<circle cx="128.37" cy="887.94" r="2.8" fill="none" stroke="#ff0000" stroke-width="1.6"/>
<circle cx="130.35" cy="835.63" r="2.8" fill="none" stroke="#ff0000" stroke-width="1.6"/>
<circle cx="132.33" cy="905.55" r="2.8" fill="none" stroke="#ff0000" stroke-width="1.6"/>
<circle cx="134.31" cy="937.04" r="2.8" fill="none" stroke="#ff0000" stroke-width="1.6"/>
<circle cx="136.28" cy="930.63" r="2.8" fill="none" stroke="#ff0000" stroke-width="1.6"/>
<circle cx="138.26" cy="931.70" r="2.8" fill="none" stroke="#ff0000" stroke-width="1.6"/>
<circle cx="140.24" cy="927.97" r="2.8" fill="none" stroke="#ff0000" stroke-width="1.6"/>
<circle cx="142.22" cy="940.24" r="2.8" fill="none" stroke="#ff0000" stroke-width="1.6"/>
<circle cx="144.19" cy="937.57" r="2.8" fill="none" stroke="#ff0000" stroke-width="1.6"/>
<circle cx="146.17" cy="935.97" r="2.8" fill="none" stroke="#ff0000" stroke-width="1.6"/>
<circle cx="148.15" cy="946.11" r="2.8" fill="none" stroke="#ff0000" stroke-width="1.6"/>
<circle cx="150.13" cy="948.78" r="2.8" fill="none" stroke="#ff0000" stroke-width="1.6"/>
<circle cx="152.10" cy="937.04" r="2.8" fill="none" stroke="#ff0000" stroke-width="1.6"/>
<circle cx="154.08" cy="953.05" r="2.8" fill="none" stroke="#ff0000" stroke-width="1.6"/>
<circle cx="156.06" cy="958.92" r="2.8" fill="none" stroke="#ff0000" stroke-width="1.6"/>
<circle cx="158.04" cy="967.99" r="2.8" fill="none" stroke="#ff0000" stroke-width="1.6"/>
<circle cx="160.01" cy="968.53" r="2.8" fill="none" stroke="#ff0000" stroke-width="1.6"/>
<circle cx="161.99" cy="968.53" r="2.8" fill="none" stroke="#ff0000" stroke-width="1.6"/>
<circle cx="163.97" cy="967.99" r="2.8" fill="none" stroke="#ff0000" stroke-width="1.6"/>
<circle cx="165.95" cy="968.53" r="2.8" fill="none" stroke="#ff0000" stroke-width="1.6"/>
<circle cx="167.92" cy="968.53" r="2.8" fill="none" stroke="#ff0000" stroke-width="1.6"/>
<circle cx="169.90" cy="967.99" r="2.8" fill="none" stroke="#ff0000" stroke-width="1.6"/>
<circle cx="171.88" cy="968.53" r="2.8" fill="none" stroke="#ff0000" stroke-width="1.6"/>
<circle cx="173.86" cy="967.46" r="2.8" fill="none" stroke="#ff0000" stroke-width="1.6"/>
<circle cx="175.84" cy="965.86" r="2.8" fill="none" stroke="#ff0000" stroke-width="1.6"/>
<circle cx="177.81" cy="963.72" r="2.8" fill="none" stroke="#ff0000" stroke-width="1.6"/>
<circle cx="179.79" cy="962.66" r="2.8" fill="none" stroke="#ff0000" stroke-width="1.6"/>
<circle cx="181.77" cy="963.72" r="2.8" fill="none" stroke="#ff0000" stroke-width="1.6"/>
<circle cx="183.75" cy="961.05" r="2.8" fill="none" stroke="#ff0000" stroke-width="1.6"/>
<circle cx="185.72" cy="954.12" r="2.8" fill="none" stroke="#ff0000" stroke-width="1.6"/>
<circle cx="187.70" cy="962.66" r="2.8" fill="none" stroke="#ff0000" stroke-width="1.6"/>
<circle cx="189.68" cy="966.93" r="2.8" fill="none" stroke="#ff0000" stroke-width="1.6"/>
<circle cx="191.66" cy="968.53" r="2.8" fill="none" stroke="#ff0000" stroke-width="1.6"/>
<circle cx="193.63" cy="969.06" r="2.8" fill="none" stroke="#ff0000" stroke-width="1.6"/>
<circle cx="195.61" cy="969.06" r="2.8" fill="none" stroke="#ff0000" stroke-width="1.6"/>
<circle cx="197.59" cy="969.06" r="2.8" fill="none" stroke="#ff0000" stroke-width="1.6"/>
<circle cx="199.57" cy="969.06" r="2.8" fill="none" stroke="#ff0000" stroke-width="1.6"/>
<circle cx="201.54" cy="969.06" r="2.8" fill="none" stroke="#ff0000" stroke-width="1.6"/>
<circle cx="203.52" cy="969.06" r="2.8" fill="none" stroke="#ff0000" stroke-width="1.6"/>
<circle cx="205.50" cy="964.79" r="2.8" fill="none" stroke="#ff0000" stroke-width="1.6"/>
<circle cx="207.48" cy="962.12" r="2.8" fill="none" stroke="#ff0000" stroke-width="1.6"/>
<circle cx="209.45" cy="958.92" r="2.8" fill="none" stroke="#ff0000" stroke-width="1.6"/>
<circle cx="211.43" cy="953.05" r="2.8" fill="none" stroke="#ff0000" stroke-width="1.6"/>
<circle cx="213.41" cy="947.71" r="2.8" fill="none" stroke="#ff0000" stroke-width="1.6"/>
<circle cx="215.39" cy="953.05" r="2.8" fill="none" stroke="#ff0000" stroke-width="1.6"/>
<circle cx="217.36" cy="959.45" r="2.8" fill="none" stroke="#ff0000" stroke-width="1.6"/>
<circle cx="219.34" cy="964.26" r="2.8" fill="none" stroke="#ff0000" stroke-width="1.6"/>
<circle cx="221.32" cy="940.24" r="2.8" fill="none" stroke="#ff0000" stroke-width="1.6"/>
<circle cx="223.30" cy="946.64" r="2.8" fill="none" stroke="#ff0000" stroke-width="1.6"/>
<circle cx="225.28" cy="948.25" r="2.8" fill="none" stroke="#ff0000" stroke-width="1.6"/>
<circle cx="227.25" cy="950.91" r="2.8" fill="none" stroke="#ff0000" stroke-width="1.6"/>
<circle cx="229.23" cy="960.52" r="2.8" fill="none" stroke="#ff0000" stroke-width="1.6"/>
<circle cx="231.21" cy="943.44" r="2.8" fill="none" stroke="#ff0000" stroke-width="1.6"/>
<circle cx="233.19" cy="958.39" r="2.8" fill="none" stroke="#ff0000" stroke-width="1.6"/>
<circle cx="235.16" cy="964.79" r="2.8" fill="none" stroke="#ff0000" stroke-width="1.6"/>
<circle cx="237.14" cy="967.46" r="2.8" fill="none" stroke="#ff0000" stroke-width="1.6"/>
<circle cx="239.12" cy="968.53" r="2.8" fill="none" stroke="#ff0000" stroke-width="1.6"/>
<circle cx="241.10" cy="965.86" r="2.8" fill="none" stroke="#ff0000" stroke-width="1.6"/>
<circle cx="243.07" cy="968.53" r="2.8" fill="none" stroke="#ff0000" stroke-width="1.6"/>
<circle cx="245.05" cy="966.93" r="2.8" fill="none" stroke="#ff0000" stroke-width="1.6"/>
<circle cx="247.03" cy="969.06" r="2.8" fill="none" stroke="#ff0000" stroke-width="1.6"/>
<circle cx="249.01" cy="964.79" r="2.8" fill="none" stroke="#ff0000" stroke-width="1.6"/>
<circle cx="250.98" cy="969.06" r="2.8" fill="none" stroke="#ff0000" stroke-width="1.6"/>
<circle cx="252.96" cy="966.39" r="2.8" fill="none" stroke="#ff0000" stroke-width="1.6"/>
<circle cx="254.94" cy="969.06" r="2.8" fill="none" stroke="#ff0000" stroke-width="1.6"/>
<circle cx="256.92" cy="962.66" r="2.8" fill="none" stroke="#ff0000" stroke-width="1.6"/>
<circle cx="258.89" cy="959.45" r="2.8" fill="none" stroke="#ff0000" stroke-width="1.6"/>
<circle cx="260.87" cy="960.52" r="2.8" fill="none" stroke="#ff0000" stroke-width="1.6"/>
<circle cx="262.85" cy="959.45" r="2.8" fill="none" stroke="#ff0000" stroke-width="1.6"/>
<circle cx="264.83" cy="963.72" r="2.8" fill="none" stroke="#ff0000" stroke-width="1.6"/>
<circle cx="266.80" cy="954.65" r="2.8" fill="none" stroke="#ff0000" stroke-width="1.6"/>
<circle cx="268.78" cy="961.05" r="2.8" fill="none" stroke="#ff0000" stroke-width="1.6"/>
<circle cx="270.76" cy="967.99" r="2.8" fill="none" stroke="#ff0000" stroke-width="1.6"/>
<circle cx="272.74" cy="968.53" r="2.8" fill="none" stroke="#ff0000" stroke-width="1.6"/>
<circle cx="274.72" cy="952.52" r="2.8" fill="none" stroke="#ff0000" stroke-width="1.6"/>
<circle cx="276.69" cy="955.72" r="2.8" fill="none" stroke="#ff0000" stroke-width="1.6"/>
<circle cx="278.67" cy="957.32" r="2.8" fill="none" stroke="#ff0000" stroke-width="1.6"/>
<circle cx="280.65" cy="959.45" r="2.8" fill="none" stroke="#ff0000" stroke-width="1.6"/>
<circle cx="282.63" cy="962.66" r="2.8" fill="none" stroke="#ff0000" stroke-width="1.6"/>
<circle cx="284.60" cy="958.39" r="2.8" fill="none" stroke="#ff0000" stroke-width="1.6"/>
<circle cx="286.58" cy="949.85" r="2.8" fill="none" stroke="#ff0000" stroke-width="1.6"/>
<circle cx="288.56" cy="959.45" r="2.8" fill="none" stroke="#ff0000" stroke-width="1.6"/>
<circle cx="290.54" cy="962.66" r="2.8" fill="none" stroke="#ff0000" stroke-width="1.6"/>
<circle cx="292.51" cy="959.45" r="2.8" fill="none" stroke="#ff0000" stroke-width="1.6"/>
<circle cx="294.49" cy="955.72" r="2.8" fill="none" stroke="#ff0000" stroke-width="1.6"/>
<circle cx="296.47" cy="962.66" r="2.8" fill="none" stroke="#ff0000" stroke-width="1.6"/>
<circle cx="298.45" cy="959.45" r="2.8" fill="none" stroke="#ff0000" stroke-width="1.6"/>
<circle cx="300.42" cy="961.59" r="2.8" fill="none" stroke="#ff0000" stroke-width="1.6"/>
<circle cx="302.40" cy="959.45" r="2.8" fill="none" stroke="#ff0000" stroke-width="1.6"/>
<circle cx="304.38" cy="963.72" r="2.8" fill="none" stroke="#ff0000" stroke-width="1.6"/>
<circle cx="306.36" cy="960.52" r="2.8" fill="none" stroke="#ff0000" stroke-width="1.6"/>
<circle cx="308.33" cy="967.99" r="2.8" fill="none" stroke="#ff0000" stroke-width="1.6"/>
<circle cx="310.31" cy="964.79" r="2.8" fill="none" stroke="#ff0000" stroke-width="1.6"/>
<circle cx="312.29" cy="967.99" r="2.8" fill="none" stroke="#ff0000" stroke-width="1.6"/>
<circle cx="314.27" cy="960.52" r="2.8" fill="none" stroke="#ff0000" stroke-width="1.6"/>
<circle cx="316.24" cy="963.72" r="2.8" fill="none" stroke="#ff0000" stroke-width="1.6"/>
<circle cx="318.22" cy="960.52" r="2.8" fill="none" stroke="#ff0000" stroke-width="1.6"/>
<circle cx="320.20" cy="964.79" r="2.8" fill="none" stroke="#ff0000" stroke-width="1.6"/>
<circle cx="322.18" cy="958.39" r="2.8" fill="none" stroke="#ff0000" stroke-width="1.6"/>
<circle cx="324.16" cy="950.38" r="2.8" fill="none" stroke="#ff0000" stroke-width="1.6"/>
<circle cx="326.13" cy="955.72" r="2.8" fill="none" stroke="#ff0000" stroke-width="1.6"/>
<circle cx="328.11" cy="945.04" r="2.8" fill="none" stroke="#ff0000" stroke-width="1.6"/>
<circle cx="330.09" cy="947.71" r="2.8" fill="none" stroke="#ff0000" stroke-width="1.6"/>
<circle cx="332.07" cy="938.11" r="2.8" fill="none" stroke="#ff0000" stroke-width="1.6"/>
<circle cx="334.04" cy="924.23" r="2.8" fill="none" stroke="#ff0000" stroke-width="1.6"/>
<circle cx="336.02" cy="903.95" r="2.8" fill="none" stroke="#ff0000" stroke-width="1.6"/>
<circle cx="338.00" cy="931.70" r="2.8" fill="none" stroke="#ff0000" stroke-width="1.6"/>
<circle cx="339.98" cy="930.63" r="2.8" fill="none" stroke="#ff0000" stroke-width="1.6"/>
<circle cx="341.95" cy="951.45" r="2.8" fill="none" stroke="#ff0000" stroke-width="1.6"/>
<circle cx="343.93" cy="951.98" r="2.8" fill="none" stroke="#ff0000" stroke-width="1.6"/>
<circle cx="345.91" cy="958.39" r="2.8" fill="none" stroke="#ff0000" stroke-width="1.6"/>
<circle cx="347.89" cy="963.72" r="2.8" fill="none" stroke="#ff0000" stroke-width="1.6"/>
<circle cx="349.86" cy="961.05" r="2.8" fill="none" stroke="#ff0000" stroke-width="1.6"/>
<circle cx="351.84" cy="962.66" r="2.8" fill="none" stroke="#ff0000" stroke-width="1.6"/>
<circle cx="353.82" cy="961.59" r="2.8" fill="none" stroke="#ff0000" stroke-width="1.6"/>
<circle cx="355.80" cy="950.91" r="2.8" fill="none" stroke="#ff0000" stroke-width="1.6"/>
<circle cx="357.77" cy="961.59" r="2.8" fill="none" stroke="#ff0000" stroke-width="1.6"/>
<circle cx="359.75" cy="964.79" r="2.8" fill="none" stroke="#ff0000" stroke-width="1.6"/>
<circle cx="361.73" cy="961.59" r="2.8" fill="none" stroke="#ff0000" stroke-width="1.6"/>
<circle cx="363.71" cy="967.99" r="2.8" fill="none" stroke="#ff0000" stroke-width="1.6"/>
<circle cx="365.68" cy="961.59" r="2.8" fill="none" stroke="#ff0000" stroke-width="1.6"/>
<circle cx="367.66" cy="964.79" r="2.8" fill="none" stroke="#ff0000" stroke-width="1.6"/>
<circle cx="369.64" cy="962.66" r="2.8" fill="none" stroke="#ff0000" stroke-width="1.6"/>
<circle cx="371.62" cy="967.99" r="2.8" fill="none" stroke="#ff0000" stroke-width="1.6"/>
<circle cx="373.60" cy="963.72" r="2.8" fill="none" stroke="#ff0000" stroke-width="1.6"/>
<circle cx="375.57" cy="961.59" r="2.8" fill="none" stroke="#ff0000" stroke-width="1.6"/>
<circle cx="377.55" cy="965.86" r="2.8" fill="none" stroke="#ff0000" stroke-width="1.6"/>
<circle cx="379.53" cy="959.99" r="2.8" fill="none" stroke="#ff0000" stroke-width="1.6"/>
<circle cx="381.51" cy="953.05" r="2.8" fill="none" stroke="#ff0000" stroke-width="1.6"/>
<circle cx="383.48" cy="959.99" r="2.8" fill="none" stroke="#ff0000" stroke-width="1.6"/>
<circle cx="385.46" cy="967.35" r="2.8" fill="none" stroke="#ff0000" stroke-width="1.6"/>
<circle cx="387.44" cy="967.38" r="2.8" fill="none" stroke="#ff0000" stroke-width="1.6"/>
<circle cx="389.42" cy="967.83" r="2.8" fill="none" stroke="#ff0000" stroke-width="1.6"/>
<circle cx="391.39" cy="967.43" r="2.8" fill="none" stroke="#ff0000" stroke-width="1.6"/>
<circle cx="393.37" cy="967.46" r="2.8" fill="none" stroke="#ff0000" stroke-width="1.6"/>
<circle cx="395.35" cy="967.91" r="2.8" fill="none" stroke="#ff0000" stroke-width="1.6"/>
<circle cx="397.33" cy="967.73" r="2.8" fill="none" stroke="#ff0000" stroke-width="1.6"/>
<circle cx="399.30" cy="967.97" r="2.8" fill="none" stroke="#ff0000" stroke-width="1.6"/>
<circle cx="401.28" cy="967.99" r="2.8" fill="none" stroke="#ff0000" stroke-width="1.6"/>
<circle cx="403.26" cy="967.81" r="2.8" fill="none" stroke="#ff0000" stroke-width="1.6"/>
<circle cx="405.24" cy="968.05" r="2.8" fill="none" stroke="#ff0000" stroke-width="1.6"/>
<circle cx="407.21" cy="967.65" r="2.8" fill="none" stroke="#ff0000" stroke-width="1.6"/>
<circle cx="409.19" cy="965.86" r="2.8" fill="none" stroke="#ff0000" stroke-width="1.6"/>
<circle cx="411.17" cy="968.13" r="2.8" fill="none" stroke="#ff0000" stroke-width="1.6"/>
<circle cx="413.15" cy="967.73" r="2.8" fill="none" stroke="#ff0000" stroke-width="1.6"/>
<circle cx="415.12" cy="968.18" r="2.8" fill="none" stroke="#ff0000" stroke-width="1.6"/>
<circle cx="417.10" cy="967.78" r="2.8" fill="none" stroke="#ff0000" stroke-width="1.6"/>
<circle cx="419.08" cy="968.02" r="2.8" fill="none" stroke="#ff0000" stroke-width="1.6"/>
<circle cx="421.06" cy="968.26" r="2.8" fill="none" stroke="#ff0000" stroke-width="1.6"/>
<circle cx="423.04" cy="968.29" r="2.8" fill="none" stroke="#ff0000" stroke-width="1.6"/>
<circle cx="425.01" cy="968.10" r="2.8" fill="none" stroke="#ff0000" stroke-width="1.6"/>
<circle cx="426.99" cy="968.34" r="2.8" fill="none" stroke="#ff0000" stroke-width="1.6"/>
<circle cx="428.97" cy="968.37" r="2.8" fill="none" stroke="#ff0000" stroke-width="1.6"/>
<circle cx="430.95" cy="968.39" r="2.8" fill="none" stroke="#ff0000" stroke-width="1.6"/>
<circle cx="432.92" cy="967.99" r="2.8" fill="none" stroke="#ff0000" stroke-width="1.6"/>
<circle cx="434.90" cy="966.39" r="2.8" fill="none" stroke="#ff0000" stroke-width="1.6"/>
<circle cx="436.88" cy="968.26" r="2.8" fill="none" stroke="#ff0000" stroke-width="1.6"/>
<circle cx="438.86" cy="968.07" r="2.8" fill="none" stroke="#ff0000" stroke-width="1.6"/>
<circle cx="440.83" cy="968.31" r="2.8" fill="none" stroke="#ff0000" stroke-width="1.6"/>
<circle cx="442.81" cy="968.13" r="2.8" fill="none" stroke="#ff0000" stroke-width="1.6"/>
<circle cx="444.79" cy="968.37" r="2.8" fill="none" stroke="#ff0000" stroke-width="1.6"/>
<circle cx="446.77" cy="968.61" r="2.8" fill="none" stroke="#ff0000" stroke-width="1.6"/>
<circle cx="448.74" cy="968.63" r="2.8" fill="none" stroke="#ff0000" stroke-width="1.6"/>
<circle cx="450.72" cy="968.23" r="2.8" fill="none" stroke="#ff0000" stroke-width="1.6"/>
<circle cx="452.70" cy="968.26" r="2.8" fill="none" stroke="#ff0000" stroke-width="1.6"/>
<circle cx="454.68" cy="968.29" r="2.8" fill="none" stroke="#ff0000" stroke-width="1.6"/>
<circle cx="456.65" cy="968.31" r="2.8" fill="none" stroke="#ff0000" stroke-width="1.6"/>
<circle cx="458.63" cy="968.77" r="2.8" fill="none" stroke="#ff0000" stroke-width="1.6"/>
<circle cx="460.61" cy="968.79" r="2.8" fill="none" stroke="#ff0000" stroke-width="1.6"/>
<circle cx="462.59" cy="968.39" r="2.8" fill="none" stroke="#ff0000" stroke-width="1.6"/>
<circle cx="464.56" cy="968.42" r="2.8" fill="none" stroke="#ff0000" stroke-width="1.6"/>
<circle cx="466.54" cy="968.87" r="2.8" fill="none" stroke="#ff0000" stroke-width="1.6"/>
<circle cx="468.52" cy="968.47" r="2.8" fill="none" stroke="#ff0000" stroke-width="1.6"/>
<circle cx="470.50" cy="968.93" r="2.8" fill="none" stroke="#ff0000" stroke-width="1.6"/>
<circle cx="472.48" cy="968.53" r="2.8" fill="none" stroke="#ff0000" stroke-width="1.6"/>
<circle cx="474.45" cy="968.77" r="2.8" fill="none" stroke="#ff0000" stroke-width="1.6"/>
<circle cx="476.43" cy="968.58" r="2.8" fill="none" stroke="#ff0000" stroke-width="1.6"/>
<circle cx="478.41" cy="969.38" r="2.8" fill="none" stroke="#ff0000" stroke-width="1.6"/>
<circle cx="480.39" cy="969.22" r="2.8" fill="none" stroke="#ff0000" stroke-width="1.6"/>
<circle cx="482.36" cy="969.38" r="2.8" fill="none" stroke="#ff0000" stroke-width="1.6"/>
<circle cx="484.34" cy="969.06" r="2.8" fill="none" stroke="#ff0000" stroke-width="1.6"/>
<circle cx="486.32" cy="969.22" r="2.8" fill="none" stroke="#ff0000" stroke-width="1.6"/>
<circle cx="488.30" cy="969.22" r="2.8" fill="none" stroke="#ff0000" stroke-width="1.6"/>
<circle cx="490.27" cy="966.39" r="2.8" fill="none" stroke="#ff0000" stroke-width="1.6"/>
<circle cx="492.25" cy="969.22" r="2.8" fill="none" stroke="#ff0000" stroke-width="1.6"/>
<circle cx="494.23" cy="969.06" r="2.8" fill="none" stroke="#ff0000" stroke-width="1.6"/>
<circle cx="496.21" cy="969.22" r="2.8" fill="none" stroke="#ff0000" stroke-width="1.6"/>
<circle cx="498.18" cy="969.06" r="2.8" fill="none" stroke="#ff0000" stroke-width="1.6"/>
<circle cx="500.16" cy="969.06" r="2.8" fill="none" stroke="#ff0000" stroke-width="1.6"/>
<circle cx="502.14" cy="969.38" r="2.8" fill="none" stroke="#ff0000" stroke-width="1.6"/>
<circle cx="504.12" cy="969.06" r="2.8" fill="none" stroke="#ff0000" stroke-width="1.6"/>
<circle cx="506.09" cy="969.38" r="2.8" fill="none" stroke="#ff0000" stroke-width="1.6"/>
<circle cx="508.07" cy="969.38" r="2.8" fill="none" stroke="#ff0000" stroke-width="1.6"/>
<circle cx="510.05" cy="969.38" r="2.8" fill="none" stroke="#ff0000" stroke-width="1.6"/>
<circle cx="512.03" cy="969.06" r="2.8" fill="none" stroke="#ff0000" stroke-width="1.6"/>
<circle cx="514.00" cy="969.06" r="2.8" fill="none" stroke="#ff0000" stroke-width="1.6"/>
<circle cx="515.98" cy="969.38" r="2.8" fill="none" stroke="#ff0000" stroke-width="1.6"/>
<circle cx="517.96" cy="969.38" r="2.8" fill="none" stroke="#ff0000" stroke-width="1.6"/>
<circle cx="519.94" cy="969.06" r="2.8" fill="none" stroke="#ff0000" stroke-width="1.6"/>
<circle cx="521.92" cy="969.22" r="2.8" fill="none" stroke="#ff0000" stroke-width="1.6"/>
<circle cx="523.89" cy="969.22" r="2.8" fill="none" stroke="#ff0000" stroke-width="1.6"/>
<circle cx="525.87" cy="969.38" r="2.8" fill="none" stroke="#ff0000" stroke-width="1.6"/>
<circle cx="527.85" cy="969.38" r="2.8" fill="none" stroke="#ff0000" stroke-width="1.6"/>
<circle cx="529.83" cy="969.22" r="2.8" fill="none" stroke="#ff0000" stroke-width="1.6"/>
<circle cx="531.80" cy="969.38" r="2.8" fill="none" stroke="#ff0000" stroke-width="1.6"/>
<circle cx="533.78" cy="969.38" r="2.8" fill="none" stroke="#ff0000" stroke-width="1.6"/>
<circle cx="535.76" cy="969.38" r="2.8" fill="none" stroke="#ff0000" stroke-width="1.6"/>
<circle cx="537.74" cy="969.38" r="2.8" fill="none" stroke="#ff0000" stroke-width="1.6"/>
<circle cx="539.71" cy="969.38" r="2.8" fill="none" stroke="#ff0000" stroke-width="1.6"/>
<circle cx="541.69" cy="969.06" r="2.8" fill="none" stroke="#ff0000" stroke-width="1.6"/>
<circle cx="543.67" cy="969.38" r="2.8" fill="none" stroke="#ff0000" stroke-width="1.6"/>
<circle cx="545.65" cy="965.86" r="2.8" fill="none" stroke="#ff0000" stroke-width="1.6"/>
<circle cx="547.62" cy="961.05" r="2.8" fill="none" stroke="#ff0000" stroke-width="1.6"/>
<circle cx="549.60" cy="958.39" r="2.8" fill="none" stroke="#ff0000" stroke-width="1.6"/>
<circle cx="551.58" cy="957.32" r="2.8" fill="none" stroke="#ff0000" stroke-width="1.6"/>
<circle cx="553.56" cy="962.66" r="2.8" fill="none" stroke="#ff0000" stroke-width="1.6"/>
<circle cx="555.53" cy="966.93" r="2.8" fill="none" stroke="#ff0000" stroke-width="1.6"/>
<circle cx="557.51" cy="969.38" r="2.8" fill="none" stroke="#ff0000" stroke-width="1.6"/>
<circle cx="559.49" cy="969.06" r="2.8" fill="none" stroke="#ff0000" stroke-width="1.6"/>
<circle cx="561.47" cy="969.38" r="2.8" fill="none" stroke="#ff0000" stroke-width="1.6"/>
<circle cx="563.44" cy="969.38" r="2.8" fill="none" stroke="#ff0000" stroke-width="1.6"/>
<circle cx="565.42" cy="969.22" r="2.8" fill="none" stroke="#ff0000" stroke-width="1.6"/>
<circle cx="567.40" cy="969.38" r="2.8" fill="none" stroke="#ff0000" stroke-width="1.6"/>
<circle cx="569.38" cy="969.22" r="2.8" fill="none" stroke="#ff0000" stroke-width="1.6"/>
<circle cx="571.36" cy="969.06" r="2.8" fill="none" stroke="#ff0000" stroke-width="1.6"/>
<circle cx="573.33" cy="969.38" r="2.8" fill="none" stroke="#ff0000" stroke-width="1.6"/>
<circle cx="575.31" cy="969.22" r="2.8" fill="none" stroke="#ff0000" stroke-width="1.6"/>
<circle cx="577.29" cy="969.38" r="2.8" fill="none" stroke="#ff0000" stroke-width="1.6"/>
<circle cx="579.27" cy="969.38" r="2.8" fill="none" stroke="#ff0000" stroke-width="1.6"/>
<circle cx="581.24" cy="969.38" r="2.8" fill="none" stroke="#ff0000" stroke-width="1.6"/>
<circle cx="583.22" cy="969.38" r="2.8" fill="none" stroke="#ff0000" stroke-width="1.6"/>
<circle cx="585.20" cy="969.38" r="2.8" fill="none" stroke="#ff0000" stroke-width="1.6"/>
<circle cx="587.18" cy="962.66" r="2.8" fill="none" stroke="#ff0000" stroke-width="1.6"/>
<circle cx="589.15" cy="969.22" r="2.8" fill="none" stroke="#ff0000" stroke-width="1.6"/>
<circle cx="591.13" cy="969.38" r="2.8" fill="none" stroke="#ff0000" stroke-width="1.6"/>
<circle cx="593.11" cy="969.38" r="2.8" fill="none" stroke="#ff0000" stroke-width="1.6"/>
<circle cx="595.09" cy="969.06" r="2.8" fill="none" stroke="#ff0000" stroke-width="1.6"/>
<circle cx="597.06" cy="969.06" r="2.8" fill="none" stroke="#ff0000" stroke-width="1.6"/>
<circle cx="599.04" cy="969.38" r="2.8" fill="none" stroke="#ff0000" stroke-width="1.6"/>
<circle cx="601.02" cy="969.22" r="2.8" fill="none" stroke="#ff0000" stroke-width="1.6"/>
<circle cx="603.00" cy="969.38" r="2.8" fill="none" stroke="#ff0000" stroke-width="1.6"/>
<circle cx="604.97" cy="969.22" r="2.8" fill="none" stroke="#ff0000" stroke-width="1.6"/>
<circle cx="606.95" cy="969.06" r="2.8" fill="none" stroke="#ff0000" stroke-width="1.6"/>
<circle cx="608.93" cy="969.38" r="2.8" fill="none" stroke="#ff0000" stroke-width="1.6"/>
<circle cx="610.91" cy="969.06" r="2.8" fill="none" stroke="#ff0000" stroke-width="1.6"/>
<circle cx="612.88" cy="969.22" r="2.8" fill="none" stroke="#ff0000" stroke-width="1.6"/>
<circle cx="614.86" cy="966.93" r="2.8" fill="none" stroke="#ff0000" stroke-width="1.6"/>
<circle cx="616.84" cy="969.38" r="2.8" fill="none" stroke="#ff0000" stroke-width="1.6"/>
<circle cx="618.82" cy="969.38" r="2.8" fill="none" stroke="#ff0000" stroke-width="1.6"/>
<circle cx="620.80" cy="969.38" r="2.8" fill="none" stroke="#ff0000" stroke-width="1.6"/>
<circle cx="622.77" cy="969.38" r="2.8" fill="none" stroke="#ff0000" stroke-width="1.6"/>
<circle cx="624.75" cy="969.38" r="2.8" fill="none" stroke="#ff0000" stroke-width="1.6"/>
<circle cx="626.73" cy="969.38" r="2.8" fill="none" stroke="#ff0000" stroke-width="1.6"/>
<circle cx="628.71" cy="969.06" r="2.8" fill="none" stroke="#ff0000" stroke-width="1.6"/>
<circle cx="630.68" cy="969.38" r="2.8" fill="none" stroke="#ff0000" stroke-width="1.6"/>
<circle cx="632.66" cy="969.38" r="2.8" fill="none" stroke="#ff0000" stroke-width="1.6"/>
<circle cx="634.64" cy="969.06" r="2.8" fill="none" stroke="#ff0000" stroke-width="1.6"/>
<circle cx="636.62" cy="969.22" r="2.8" fill="none" stroke="#ff0000" stroke-width="1.6"/>
<circle cx="638.59" cy="969.38" r="2.8" fill="none" stroke="#ff0000" stroke-width="1.6"/>
<circle cx="640.57" cy="969.22" r="2.8" fill="none" stroke="#ff0000" stroke-width="1.6"/>
<circle cx="642.55" cy="969.38" r="2.8" fill="none" stroke="#ff0000" stroke-width="1.6"/>
<circle cx="644.53" cy="969.22" r="2.8" fill="none" stroke="#ff0000" stroke-width="1.6"/>
<circle cx="646.50" cy="969.06" r="2.8" fill="none" stroke="#ff0000" stroke-width="1.6"/>
<circle cx="648.48" cy="966.93" r="2.8" fill="none" stroke="#ff0000" stroke-width="1.6"/>
<circle cx="650.46" cy="969.22" r="2.8" fill="none" stroke="#ff0000" stroke-width="1.6"/>
<circle cx="652.44" cy="969.22" r="2.8" fill="none" stroke="#ff0000" stroke-width="1.6"/>
<circle cx="654.41" cy="969.22" r="2.8" fill="none" stroke="#ff0000" stroke-width="1.6"/>
<circle cx="656.39" cy="969.38" r="2.8" fill="none" stroke="#ff0000" stroke-width="1.6"/>
<circle cx="658.37" cy="969.22" r="2.8" fill="none" stroke="#ff0000" stroke-width="1.6"/>
<circle cx="660.35" cy="969.06" r="2.8" fill="none" stroke="#ff0000" stroke-width="1.6"/>
<circle cx="662.32" cy="969.38" r="2.8" fill="none" stroke="#ff0000" stroke-width="1.6"/>
<circle cx="664.30" cy="969.38" r="2.8" fill="none" stroke="#ff0000" stroke-width="1.6"/>
<circle cx="666.28" cy="969.38" r="2.8" fill="none" stroke="#ff0000" stroke-width="1.6"/>
<circle cx="668.26" cy="969.06" r="2.8" fill="none" stroke="#ff0000" stroke-width="1.6"/>
<circle cx="670.24" cy="969.38" r="2.8" fill="none" stroke="#ff0000" stroke-width="1.6"/>
<circle cx="672.21" cy="969.38" r="2.8" fill="none" stroke="#ff0000" stroke-width="1.6"/>
<circle cx="674.19" cy="969.38" r="2.8" fill="none" stroke="#ff0000" stroke-width="1.6"/>
<circle cx="676.17" cy="969.22" r="2.8" fill="none" stroke="#ff0000" stroke-width="1.6"/>
<circle cx="678.15" cy="969.06" r="2.8" fill="none" stroke="#ff0000" stroke-width="1.6"/>
<circle cx="680.12" cy="969.06" r="2.8" fill="none" stroke="#ff0000" stroke-width="1.6"/>
<circle cx="682.10" cy="969.38" r="2.8" fill="none" stroke="#ff0000" stroke-width="1.6"/>
<circle cx="684.08" cy="969.06" r="2.8" fill="none" stroke="#ff0000" stroke-width="1.6"/>
<circle cx="686.06" cy="969.38" r="2.8" fill="none" stroke="#ff0000" stroke-width="1.6"/>
<circle cx="688.03" cy="969.22" r="2.8" fill="none" stroke="#ff0000" stroke-width="1.6"/>
<circle cx="690.01" cy="969.06" r="2.8" fill="none" stroke="#ff0000" stroke-width="1.6"/>
<circle cx="691.99" cy="969.22" r="2.8" fill="none" stroke="#ff0000" stroke-width="1.6"/>
<circle cx="693.97" cy="969.06" r="2.8" fill="none" stroke="#ff0000" stroke-width="1.6"/>
<circle cx="695.94" cy="969.06" r="2.8" fill="none" stroke="#ff0000" stroke-width="1.6"/>
<circle cx="697.92" cy="969.06" r="2.8" fill="none" stroke="#ff0000" stroke-width="1.6"/>
<circle cx="699.90" cy="969.38" r="2.8" fill="none" stroke="#ff0000" stroke-width="1.6"/>
<circle cx="701.88" cy="969.38" r="2.8" fill="none" stroke="#ff0000" stroke-width="1.6"/>
<circle cx="703.85" cy="969.38" r="2.8" fill="none" stroke="#ff0000" stroke-width="1.6"/>
<circle cx="705.83" cy="969.22" r="2.8" fill="none" stroke="#ff0000" stroke-width="1.6"/>
<circle cx="707.81" cy="969.38" r="2.8" fill="none" stroke="#ff0000" stroke-width="1.6"/>
<circle cx="709.79" cy="969.06" r="2.8" fill="none" stroke="#ff0000" stroke-width="1.6"/>
<circle cx="711.76" cy="969.38" r="2.8" fill="none" stroke="#ff0000" stroke-width="1.6"/>
<circle cx="713.74" cy="969.06" r="2.8" fill="none" stroke="#ff0000" stroke-width="1.6"/>
<circle cx="715.72" cy="966.93" r="2.8" fill="none" stroke="#ff0000" stroke-width="1.6"/>
<circle cx="717.70" cy="969.38" r="2.8" fill="none" stroke="#ff0000" stroke-width="1.6"/>
<circle cx="719.68" cy="969.22" r="2.8" fill="none" stroke="#ff0000" stroke-width="1.6"/>
<circle cx="721.65" cy="969.22" r="2.8" fill="none" stroke="#ff0000" stroke-width="1.6"/>
<circle cx="723.63" cy="969.22" r="2.8" fill="none" stroke="#ff0000" stroke-width="1.6"/>
<circle cx="725.61" cy="969.38" r="2.8" fill="none" stroke="#ff0000" stroke-width="1.6"/>
<circle cx="727.59" cy="969.06" r="2.8" fill="none" stroke="#ff0000" stroke-width="1.6"/>
<circle cx="729.56" cy="969.38" r="2.8" fill="none" stroke="#ff0000" stroke-width="1.6"/>
<circle cx="731.54" cy="969.06" r="2.8" fill="none" stroke="#ff0000" stroke-width="1.6"/>
<circle cx="733.52" cy="969.38" r="2.8" fill="none" stroke="#ff0000" stroke-width="1.6"/>
<circle cx="735.50" cy="969.22" r="2.8" fill="none" stroke="#ff0000" stroke-width="1.6"/>
<path d="M72.00,814.80 L79.50,828.00 L85.80,843.60 L94.50,860.30 L102.50,870.00 L106.00,874.10 L119.80,891.30 L132.50,905.10 L144.00,915.50 L152.50,922.00 L170.40,933.60 L193.60,944.30 L206.00,947.90 L232.90,955.00 L256.10,958.60 L273.90,961.25 L300.00,963.90 L336.00,966.90 L380.00,968.20 L430.00,969.00 L735.50,969.00" fill="none" stroke="#33ec2d" stroke-width="1.2" shape-rendering="crispEdges"/>
<rect x="430" y="968" width="305.5" height="2" fill="#33ec2d"/>
<line x1="791" y1="597.3" x2="847.6" y2="597.3" stroke="#33ec2d" stroke-width="1.4"/>
<text x="859.3" y="604.10" font-size="22.7" font-family="Liberation Serif" font-weight="bold">Exp</text>
<line x1="790.3" y1="666.3" x2="847.8" y2="666.3" stroke="#ff0000" stroke-width="1.7" stroke-dasharray="5.7 4.6"/>
<circle cx="825.6" cy="666.3" r="5.4" fill="none" stroke="#ff0000" stroke-width="1.3"/>
<text x="858.3" y="675.10" font-size="22.7" font-family="Liberation Serif" font-weight="bold">Obs</text>
<text x="2.4" y="562.8" font-size="29.5" font-family="Liberation Serif" font-weight="bold">b</text>
</svg></body></html>
